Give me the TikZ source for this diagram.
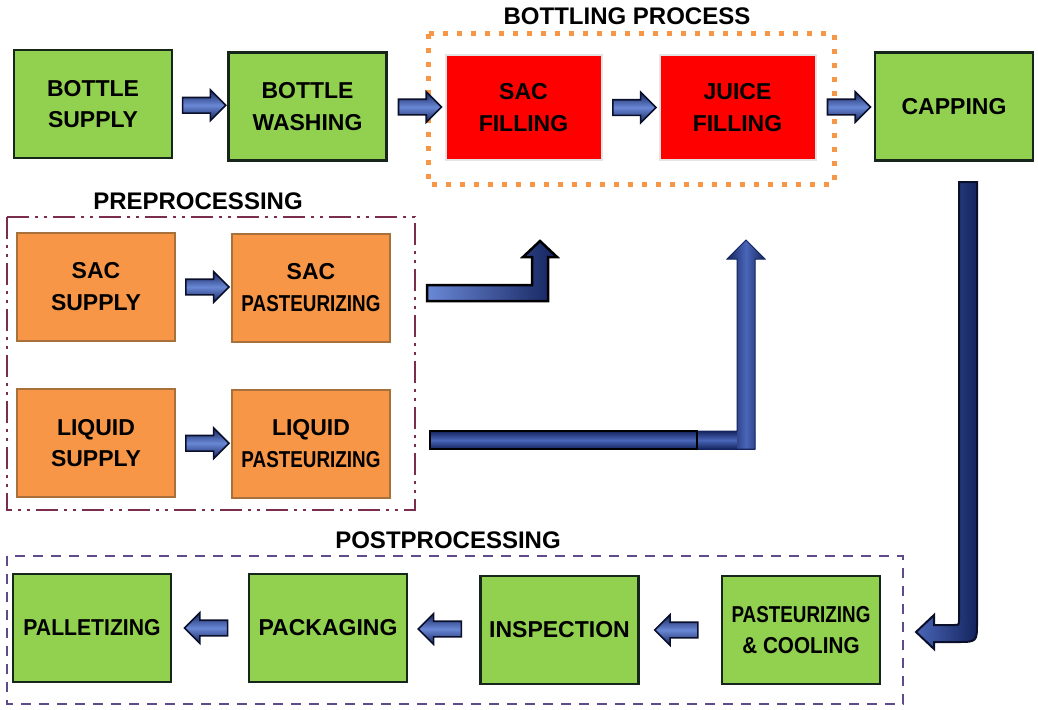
\documentclass[tikz,border=0pt]{standalone}
\usepackage{fontspec}
\setmainfont{Liberation Sans}
\usetikzlibrary{shapes.arrows,calc}
\definecolor{boxgreen}{HTML}{92D050}
\definecolor{boxred}{HTML}{FF0000}
\definecolor{boxorange}{HTML}{F79646}
\definecolor{greenedge}{HTML}{16261A}
\definecolor{orangeedge}{HTML}{A8703A}
\definecolor{rededge}{HTML}{E4E4E4}
\definecolor{framebot}{HTML}{F79646}
\definecolor{framepre}{HTML}{7B2D4E}
\definecolor{framepost}{HTML}{5F4B8B}
\definecolor{navydark}{HTML}{14245E}
\definecolor{navylight}{HTML}{6A88D6}
\definecolor{navymid}{HTML}{4A66B8}
\definecolor{navyedge}{HTML}{0A0F2A}
\tikzset{
  boxtext/.style={font=\fontsize{23}{31.5}\selectfont\bfseries, align=center, inner sep=0pt},
  gbox/.style={boxtext, rectangle, draw=greenedge, fill=boxgreen, line width=2.5pt, minimum width=158pt, minimum height=108pt},
  rbox/.style={boxtext, rectangle, draw=rededge, fill=boxred, line width=2pt, minimum width=156pt, minimum height=105pt},
  obox/.style={boxtext, rectangle, draw=orangeedge, fill=boxorange, line width=2pt, minimum width=158pt, minimum height=108pt},
  frametitle/.style={font=\fontsize{24}{28}\selectfont\bfseries, inner sep=0pt},
  smallarrow/.style={single arrow, draw=navyedge, line width=1.6pt, minimum height=43pt, minimum width=0pt,
    text height=7pt, text depth=7pt, text width=0pt,
    single arrow head extend=7.5pt, single arrow head indent=0pt, inner sep=0pt, shading=axis, top color=navydark, bottom color=navydark, middle color=navylight},
  leftarrow/.style={smallarrow, shape border rotate=180},
}
\newcommand{\narrow}[1]{\scalebox{0.82}[1]{#1}}
\begin{document}
\begin{tikzpicture}[x=1pt,y=-1pt]
\useasboundingbox (0,0) rectangle (1038,709);
% frames
\draw[framebot, line width=5pt, dash pattern=on 5pt off 9pt] (428,34) rectangle (834,184);
\draw[framepre, line width=2.8pt, dash pattern=on 22pt off 6pt on 3pt off 6pt on 3pt off 6pt] (7,217) rectangle (415,510);
\draw[framepost, line width=2.8pt, dash pattern=on 10pt off 8pt] (7,556) rectangle (903,704);
\node[frametitle] (tbot) at (627,16) {BOTTLING PROCESS};
\node[frametitle] (tpre) at (198,201) {PREPROCESSING};
\node[frametitle] (tpost) at (448,540) {POSTPROCESSING};
% boxes
\node[gbox] (bs) at (93,104) {BOTTLE\\SUPPLY};
\node[gbox] (bw) at (307.5,106.5) {BOTTLE\\WASHING};
\node[rbox] (sf) at (523.5,107.5) {SAC\\FILLING};
\node[rbox] (jf) at (737.5,107.5) {JUICE\\FILLING};
\node[gbox] (cap) at (954,106.5) {CAPPING};
\node[obox] (ss) at (96,286.5) {SAC\\SUPPLY};
\node[obox] (sp) at (311,287.5) {SAC\\\narrow{PASTEURIZING}};
\node[obox] (ls) at (96,443) {LIQUID\\SUPPLY};
\node[obox] (lp) at (311,443.5) {LIQUID\\\narrow{PASTEURIZING}};
\node[gbox] (pal) at (92,628) {\scalebox{0.92}[1]{PALLETIZING}};
\node[gbox] (pack) at (328,628) {PACKAGING};
\node[gbox] (insp) at (559.5,630) {INSPECTION};
\node[gbox] (pc) at (801,630) {\narrow{PASTEURIZING}\\\scalebox{0.9}[1]{\& COOLING}};
% small arrows
\node[smallarrow] (a1) at ($(bs.east)!0.5!(bw.west)$) {};
\node[smallarrow] (a2) at ($(bw.east)!0.5!(sf.west)$) {};
\node[smallarrow] (a3) at ($(sf.east)!0.5!(jf.west)$) {};
\node[smallarrow] (a4) at ($(jf.east)!0.5!(cap.west)$) {};
\node[smallarrow] (a5) at ($(ss.east)!0.5!(sp.west)$) {};
\node[smallarrow] (a6) at ($(ls.east)!0.5!(lp.west)$) {};
\node[leftarrow] (a7) at ($(pc.west)!0.5!(insp.east)$) {};
\node[leftarrow] (a8) at ($(insp.west)!0.5!(pack.east)$) {};
\node[leftarrow] (a9) at ($(pack.west)!0.5!(pal.east)$) {};
% big arrow: sac pasteurizing -> sac filling
\draw[black, line width=2.5pt, line join=miter, left color=navylight, right color=navydark]
  (427,285) -- (532,285) -- (532,257) -- (523,257) -- (540,241) -- (557,257) -- (548,257) -- (548,301) -- (427,301) -- cycle;
% big arrow: liquid pasteurizing -> juice filling
\shade[top color=navydark, bottom color=navydark, middle color=navymid] (430,431) rectangle (755,449);
\shade[left color=navydark, right color=navydark, middle color=navymid]
  (737,449) -- (737,259) -- (727,259) -- (746,240) -- (765,259) -- (755,259) -- (755,449) -- cycle;
\draw[navydark, line width=1pt, line join=miter]
  (430,431) -- (737,431) -- (737,259) -- (727,259) -- (746,240) -- (765,259) -- (755,259) -- (755,449) -- (430,449) -- cycle;
\draw[black, line width=2.5pt] (430,431) rectangle (697,449);
% big arrow: capping -> pasteurizing & cooling
\draw[navyedge, line width=2pt, line join=miter, left color=navymid, right color=navydark]
  (959,182) -- (977,182) -- (977,622) .. controls (977,642) .. (957,642) -- (934,642) -- (934,649) -- (916,632) -- (934,615) -- (934,625) -- (954,625) .. controls (959,625) .. (959,620) -- cycle;
\end{tikzpicture}
\end{document}
